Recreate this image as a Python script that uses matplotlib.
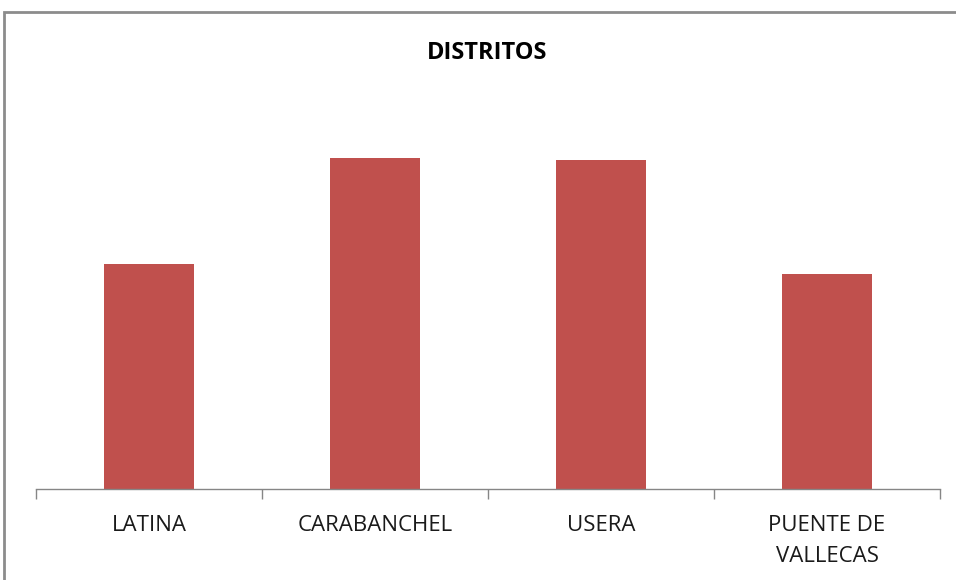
import numpy as np
from matplotlib import pyplot as plt
from matplotlib.patches import Rectangle

# data (bar heights, arbitrary units)
districts = ["LATINA", "CARABANCHEL", "USERA", "PUENTE DE\nVALLECAS"]
values = [225, 331, 329, 215]
title = "DISTRITOS"

plt.rcParams['font.family'] = ['Open Sans', 'DejaVu Sans']

fig = plt.figure(figsize=(9.56, 5.8), dpi=100)
W, H = 956, 580

# plot area in pixels: x 36..940, baseline at y=489, top at y=100
ax = fig.add_axes([36 / W, (H - 489) / H, (940 - 36) / W, (489 - 100) / H])

x = np.arange(len(districts))
ax.bar(x, values, width=0.4, color="#C0504D")
ax.set_xlim(-0.5, len(districts) - 0.5)
ax.set_ylim(0, 389)

for s in ["top", "right", "left"]:
    ax.spines[s].set_visible(False)
ax.spines["bottom"].set_color("#868686")
ax.spines["bottom"].set_linewidth(1.0)
ax.set_yticks([])

ax.set_xticks(x)
ax.set_xticklabels(districts, fontsize=16, color="#1a1a1a", linespacing=1.6)
ax.tick_params(axis="x", which="major", length=0, pad=19)
ax.set_xticks(np.arange(-0.5, len(districts)), minor=True)
ax.tick_params(axis="x", which="minor", length=7, color="#868686", width=1.0)

fig.text(487 / W, 1 - 53 / H, title, ha="center", va="center",
         fontsize=17, fontweight="bold", color="#000000")

# outer chart border
fig.patches.append(Rectangle((4 / W, -0.1), 1.2, 1 - 12 / H + 0.1,
                             transform=fig.transFigure, fill=False,
                             edgecolor="#8c8c8c", linewidth=2.0,
                             clip_on=False))

fig.savefig("out.png", dpi=100)
